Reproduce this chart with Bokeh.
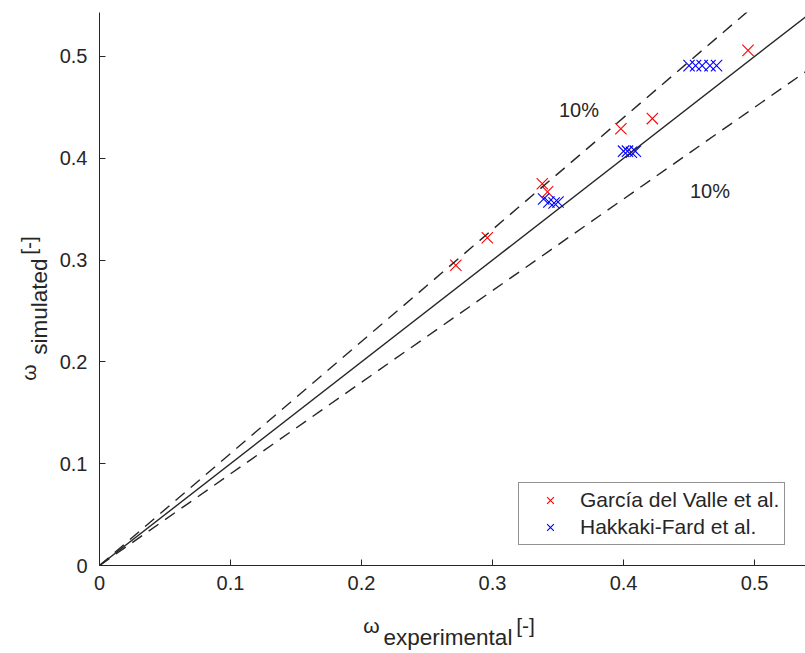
from bokeh.plotting import figure
from bokeh.models import Range1d, FixedTicker, LinearAxis
from bokeh.embed import file_html
from bokeh.resources import INLINE
from bokeh.core.properties import value

# ---- data ----
garcia_x = [0.272, 0.296, 0.338, 0.342, 0.398, 0.422, 0.495]
garcia_y = [0.295, 0.322, 0.375, 0.367, 0.429, 0.439, 0.506]

hakkaki_x = [0.339, 0.343, 0.347, 0.350,
             0.400, 0.403, 0.406, 0.409,
             0.450, 0.455, 0.460, 0.466, 0.471]
hakkaki_y = [0.360, 0.357, 0.356, 0.357,
             0.407, 0.407, 0.406, 0.407,
             0.491, 0.491, 0.491, 0.491, 0.491]

ref_x = [0.0, 0.56]
parity_slope = 1.0
band_slopes = [1.1, 0.9]

tick_values = [0, 0.1, 0.2, 0.3, 0.4, 0.5]
tick_labels = ["0", "0.1", "0.2", "0.3", "0.4", "0.5"]

band_text = ["10%", "10%"]
band_text_x = [0.366, 0.466]
band_text_y = [0.447, 0.368]

series_names = ["García del Valle et al.", "Hakkaki-Fard et al."]

x_title = ["ω", "experimental", "[-]"]
y_title = ["ω", "simulated", "[-]"]

FONT = "Liberation Sans"
TXT = "#262626"

# layout positions (along-axis placement of the title pieces)
XT_POS = [0.2076, 0.266, 0.3252]
YT_POS = [0.1896, 0.2544, 0.3143]

p = figure(width=805, height=653,
           x_range=Range1d(0, 0.5389), y_range=Range1d(0, 0.5432),
           output_backend="svg", toolbar_location=None,
           min_border_left=99, min_border_right=0,
           min_border_top=12, min_border_bottom=88)

p.xgrid.visible = False
p.ygrid.visible = False
p.outline_line_color = None
p.background_fill_color = "white"
p.border_fill_color = "white"

for ax in (p.xaxis[0], p.yaxis[0]):
    ax.ticker = FixedTicker(ticks=tick_values)
    ax.major_label_overrides = {v: l for v, l in zip(tick_values, tick_labels)}
    ax.axis_line_color = TXT
    ax.axis_line_width = 1
    ax.major_tick_line_color = TXT
    ax.major_tick_in = 6
    ax.major_tick_out = 0
    ax.minor_tick_line_color = None
    ax.major_label_text_font = FONT
    ax.major_label_text_font_size = "20px"
    ax.major_label_text_color = TXT
p.xaxis.major_label_standoff = 10
p.yaxis.major_label_standoff = 12


def title_axis(side, positions, labels, standoff, size, orientation="horizontal"):
    ax = LinearAxis(ticker=FixedTicker(ticks=positions),
                    major_label_overrides={v: l for v, l in zip(positions, labels)},
                    axis_line_color=None, major_tick_line_color=None,
                    minor_tick_line_color=None,
                    major_tick_in=0, major_tick_out=0,
                    major_label_standoff=standoff,
                    major_label_orientation=orientation,
                    major_label_text_font=FONT,
                    major_label_text_font_size=size,
                    major_label_text_color=TXT)
    p.add_layout(ax, side)
    return ax

# x title: "ω" and "[-]" on one row, subscript row slightly lower
title_axis("below", [XT_POS[0], XT_POS[2]], [x_title[0], x_title[2]], 21, "21px")
title_axis("below", [XT_POS[1]], [x_title[1]], -15, "22.5px")
# y title: subscript row nearer the axis, then "ω" / "[-]"
title_axis("left", [YT_POS[1]], [y_title[1]], 4, "22.5px", "vertical")
title_axis("left", [YT_POS[0], YT_POS[2]], [y_title[0], y_title[2]], -16, "21px", "vertical")

# markers
p.scatter(garcia_x, garcia_y, marker="x", size=16, line_color="#ff0000",
          line_width=1.1, legend_label=series_names[0])
p.scatter(hakkaki_x, hakkaki_y, marker="x", size=16, line_color="#0000ff",
          line_width=1.1, legend_label=series_names[1])

# reference lines (drawn over the markers)
p.line(ref_x, [parity_slope * v for v in ref_x], line_color="#262626", line_width=1.4)
for s in band_slopes:
    p.line(ref_x, [s * v for v in ref_x], line_color="#262626", line_width=1.4,
           line_dash="12 8")

p.text(x=band_text_x, y=band_text_y, text=band_text,
       text_font=value(FONT), text_font_size=value("20px"),
       text_align="center", text_baseline="middle", text_color=TXT)

# legend
leg = p.legend[0]
leg.location = (419, 20)
leg.margin = 0
leg.padding = 5
leg.spacing = 3
leg.glyph_width = 52
leg.glyph_height = 24
leg.label_height = 24
leg.label_standoff = 4
leg.label_text_font = FONT
leg.label_text_font_size = "21px"
leg.label_text_color = TXT
leg.border_line_color = TXT
leg.border_line_width = 1
leg.background_fill_alpha = 1.0

open("out.html", "w").write(file_html(p, INLINE))
